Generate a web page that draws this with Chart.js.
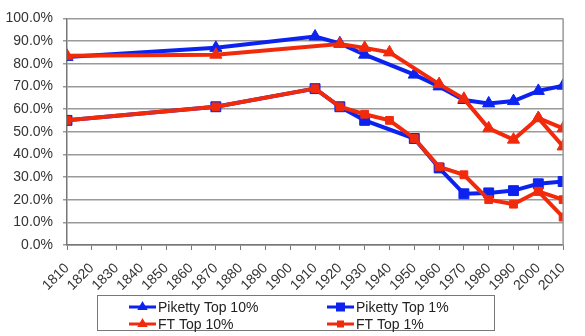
<!DOCTYPE html>
<html>
<head>
<meta charset="utf-8">
<script src="https://cdn.jsdelivr.net/npm/chart.js@4/dist/chart.umd.min.js"></script>
<style>
  html, body { margin: 0; padding: 0; background: #fff; }
  #wrap { width: 585px; height: 336px; position: relative; }
</style>
</head>
<body>
<div id="wrap"><canvas id="c" width="585" height="336"></canvas></div>
<script>
// ---- Data ----
const xTicks = [1810,1820,1830,1840,1850,1860,1870,1880,1890,1900,1910,1920,1930,1940,1950,1960,1970,1980,1990,2000,2010];

const pikettyTop10Years = [1810,1870,1910,1920,1930,1950,1960,1970,1980,1990,2000,2010];
const pikettyTop10      = [83,  87,  92,  89,  84,  75.2,70,  64,  62.5,63.5,68,  70.3];

const pikettyTop1Years  = [1810,1870,1910,1920,1930,1950,1960,1970,1980,1990,2000,2010];
const pikettyTop1       = [55,  61,  69,  61,  55,  47,  34,  22.6,23,  24,  27,  28];

const ftTop10Years      = [1810,1870,1920,1930,1940,1960,1970,1980,1990,2000,2010];
const ftTop10           = [83.5,84,  88.7,87,  85,  71,  64.5,51.5,46.5,56,  51.5];
const ftTop10AltYears   = [2000,2010];
const ftTop10Alt        = [56,  43.5];

const ftTop1Years       = [1810,1870,1910,1920,1930,1940,1950,1960,1970,1980,1990,2000,2010];
const ftTop1            = [55,  61,  69,  61,  57.7,55,  47,  34.5,31,  20,  18,  23.7,20];
const ftTop1AltYears    = [2000,2010];
const ftTop1Alt         = [23.7,12.3];

const seriesNames = ["Piketty Top 10%", "Piketty Top 1%", "FT Top 10%", "FT Top 1%"];

const BLUE = '#0c23f0';
const RED = '#f22a0c';
const FONT = "'Liberation Sans', Arial, sans-serif";

function pts(xs, ys) { return xs.map((x, i) => ({x: x, y: ys[i]})); }

const datasets = [
  { label: seriesNames[0], data: pts(pikettyTop10Years, pikettyTop10), borderColor: BLUE, backgroundColor: BLUE,
    pointStyle: 'triangle', pointRadius: 7, borderWidth: 4, pointBorderWidth: 1, order: 2 },
  { label: seriesNames[1], data: pts(pikettyTop1Years, pikettyTop1), borderColor: BLUE, backgroundColor: BLUE,
    pointStyle: 'rect', pointRadius: 7, borderWidth: 4, pointBorderWidth: 1, order: 2 },
  { label: seriesNames[2], data: pts(ftTop10Years, ftTop10), borderColor: RED, backgroundColor: RED,
    pointStyle: 'triangle', pointRadius: 7, borderWidth: 4, pointBorderWidth: 1, order: 1 },
  { label: seriesNames[3], data: pts(ftTop1Years, ftTop1), borderColor: RED, backgroundColor: RED,
    pointStyle: 'rect', pointRadius: 5.5, borderWidth: 4, pointBorderWidth: 1, order: 1 },
  { label: seriesNames[2] + ' alt', data: pts(ftTop10AltYears, ftTop10Alt), borderColor: RED, backgroundColor: RED,
    pointStyle: 'triangle', pointRadius: 7, borderWidth: 4, pointBorderWidth: 1, order: 1 },
  { label: seriesNames[3] + ' alt', data: pts(ftTop1AltYears, ftTop1Alt), borderColor: RED, backgroundColor: RED,
    pointStyle: 'rect', pointRadius: 5.5, borderWidth: 4, pointBorderWidth: 1, order: 1 }
];
datasets.forEach(d => { d.fill = false; d.tension = 0; d.pointBorderColor = d.borderColor; d.pointBackgroundColor = d.backgroundColor; });

function drawMarker(ctx, style, x, y, r, color) {
  ctx.save();
  ctx.fillStyle = color;
  ctx.beginPath();
  if (style === 'triangle') {
    ctx.moveTo(x, y - r);
    ctx.lineTo(x + r * 0.866, y + r * 0.5);
    ctx.lineTo(x - r * 0.866, y + r * 0.5);
    ctx.closePath();
  } else {
    ctx.rect(x - r, y - r, 2 * r, 2 * r);
  }
  ctx.fill();
  ctx.restore();
}

const framePlugin = {
  id: 'frame',
  afterDraw(chart) {
    const ctx = chart.ctx;
    const a = chart.chartArea;
    ctx.save();
    // right border of plot area
    ctx.strokeStyle = '#999';
    ctx.lineWidth = 1.5;
    ctx.beginPath();
    ctx.moveTo(a.right, a.top);
    ctx.lineTo(a.right, a.bottom);
    ctx.stroke();

    // legend box
    ctx.strokeStyle = '#777';
    ctx.lineWidth = 1;
    ctx.strokeRect(97.5, 295.5, 397, 35);
    const items = [
      {i: 0, x: 129, y: 307, style: 'triangle', r: 6},
      {i: 1, x: 327, y: 307, style: 'rect', r: 4.5},
      {i: 2, x: 129, y: 324, style: 'triangle', r: 6},
      {i: 3, x: 327, y: 324, style: 'rect', r: 3.5}
    ];
    ctx.font = '14px ' + FONT;
    ctx.textBaseline = 'middle';
    ctx.textAlign = 'left';
    items.forEach(it => {
      const ds = chart.data.datasets[it.i];
      ctx.strokeStyle = ds.borderColor;
      ctx.lineWidth = 3;
      ctx.beginPath();
      ctx.moveTo(it.x, it.y);
      ctx.lineTo(it.x + 27, it.y);
      ctx.stroke();
      drawMarker(ctx, it.style, it.x + 13.5, it.y, it.r, ds.borderColor);
      ctx.fillStyle = '#222';
      ctx.fillText(ds.label, it.x + 29, it.y + 1);
    });
    ctx.restore();
  }
};

new Chart(document.getElementById('c'), {
  type: 'line',
  data: { datasets: datasets },
  plugins: [framePlugin],
  options: {
    responsive: false,
    animation: false,
    layout: { padding: { left: 0, right: 16, top: 15, bottom: 41 } },
    plugins: { legend: { display: false }, tooltip: { enabled: false } },
    scales: {
      x: {
        type: 'linear',
        min: 1810, max: 2010,
        afterBuildTicks: (axis) => { axis.ticks = xTicks.map(v => ({value: v})); },
        afterFit: (axis) => { axis.height = 50; },
        ticks: {
          autoSkip: false, maxRotation: 45, minRotation: 45, padding: 10,
          color: '#333', font: { family: FONT, size: 14 },
          callback: (v) => String(v)
        },
        grid: { drawOnChartArea: false, drawTicks: true, tickLength: 5, color: '#777', lineWidth: 1 },
        border: { display: true, color: '#777', width: 1.5 }
      },
      y: {
        min: 0, max: 100,
        afterFit: (axis) => { axis.width = 67; },
        ticks: {
          stepSize: 10, padding: 10, color: '#333', font: { family: FONT, size: 14 },
          callback: (v) => v.toFixed(1) + '%'
        },
        grid: { color: '#9a9a9a', lineWidth: 1.5, drawTicks: true, tickLength: 4 },
        border: { display: true, color: '#777', width: 1.5 }
      }
    }
  }
});
</script>
</body>
</html>
